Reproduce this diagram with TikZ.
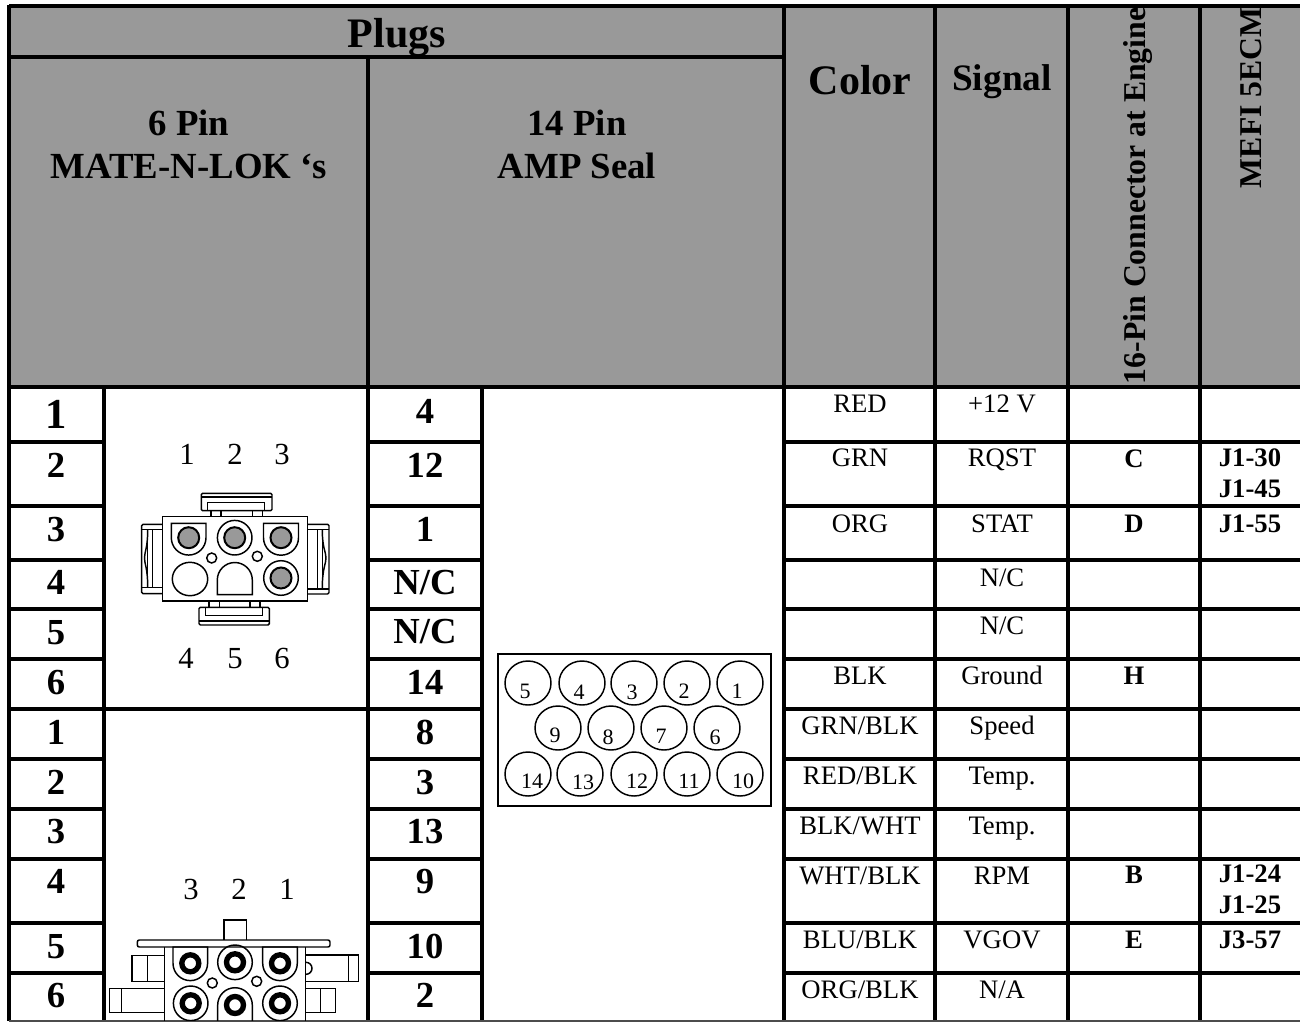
\documentclass[tikz,border=0pt]{standalone}
\usepackage{fontspec}
\setmainfont{Liberation Serif}
\usepackage{xcolor}
\usetikzlibrary{positioning,calc,shapes.geometric}
\definecolor{hdrgray}{gray}{0.6}
\newcommand{\fsz}[1]{\fontsize{#1}{#1}\selectfont}

\begin{document}
\begin{tikzpicture}[
    x=0.75pt, y=-0.75pt,
    every node/.style={inner sep=0pt, outer sep=0pt, anchor=base},
    hdrbig/.style={font=\fsz{31.5}\bfseries},
    hdrmid/.style={font=\fsz{28}\bfseries},
    hdrtwo/.style={font=\fontsize{27.6}{32.25}\selectfont\bfseries, align=center, anchor=center},
    hdrrot/.style={font=\fsz{23.8}\bfseries, rotate=90, anchor=base west},
    pinno/.style={font=\fsz{27.5}\bfseries},
    cell/.style={font=\fsz{20}},
    cellb/.style={font=\fsz{20}\bfseries},
    cellj/.style={font=\fontsize{20}{23.25}\selectfont\bfseries, align=center, anchor=center},
    plugno/.style={font=\fsz{23}},
    sealno/.style={font=\fsz{16.5}},
    grid/.style={line width=2.5pt, black},
    part/.style={line width=1.1pt, black},
    pinring/.style={line width=1.1pt, black},
    pinthick/.style={line width=4pt, black},
    sealhole/.style={draw, line width=1.1pt, ellipse, minimum width=34.5pt, minimum height=33pt, anchor=center},
]
    \useasboundingbox (0,0) rectangle (1300,1022);
    \fill[hdrgray] (9,6) rectangle (1300,387);

    % HEADER
    \node[hdrbig] (hplugs) at (397,47) {Plugs};
    \node[hdrtwo] (hsix) at (189,144) {6 Pin\\MATE-N-LOK ‘s};
    \node[hdrtwo] (hfourteen) at (577,144) {14 Pin\\AMP Seal};
    \node[hdrbig] (hcolor) at (860,94) {Color};
    \node[hdrmid] (hsignal) at (1002,90) {Signal};
    \node[hdrrot] (hengine) at (1145,384) {16-Pin Connector at Engine};
    \node[hdrrot] (hmefi) at (1261,188) {MEFI 5ECM};

    % GRID
    \draw[grid] (9,6) -- (1300,6);
    \draw[grid] (9,57) -- (784,57);
    \draw[grid] (9,387) -- (1300,387);
    \draw[grid] (9,5) -- (9,1021);
    \draw[grid] (104,387) -- (104,1021);
    \draw[grid] (368,57) -- (368,1021);
    \draw[grid] (482,387) -- (482,1021);
    \draw[grid] (784,6) -- (784,1021);
    \draw[grid] (935,6) -- (935,1021);
    \draw[grid] (1068,6) -- (1068,1021);
    \draw[grid] (1200,6) -- (1200,1021);
    \draw[grid] (9,709) -- (482,709);
    \draw[grid] (9,442) -- (104,442) (368,442) -- (482,442) (784,442) -- (1300,442);
    \draw[grid] (9,506) -- (104,506) (368,506) -- (482,506) (784,506) -- (1300,506);
    \draw[grid] (9,560) -- (104,560) (368,560) -- (482,560) (784,560) -- (1300,560);
    \draw[grid] (9,609) -- (104,609) (368,609) -- (482,609) (784,609) -- (1300,609);
    \draw[grid] (9,659) -- (104,659) (368,659) -- (482,659) (784,659) -- (1300,659);
    \draw[grid] (784,709) -- (1300,709);
    \draw[grid] (9,759) -- (104,759) (368,759) -- (482,759) (784,759) -- (1300,759);
    \draw[grid] (9,809) -- (104,809) (368,809) -- (482,809) (784,809) -- (1300,809);
    \draw[grid] (9,859) -- (104,859) (368,859) -- (482,859) (784,859) -- (1300,859);
    \draw[grid] (9,923) -- (104,923) (368,923) -- (482,923) (784,923) -- (1300,923);
    \draw[grid] (9,973) -- (104,973) (368,973) -- (482,973) (784,973) -- (1300,973);
    \draw[line width=0.8pt, black!70] (9,1021) -- (1300,1021);

    % 6 PIN NUMBERS
    \node[pinno, font=\fsz{32}\bfseries] (a1) at (56,428) {1};
    \node[pinno] (a2) at (56,477) {2};
    \node[pinno] (a3) at (56,541) {3};
    \node[pinno] (a4) at (56,594) {4};
    \node[pinno] (a5) at (56,644) {5};
    \node[pinno] (a6) at (56,694) {6};
    \node[pinno] (b1) at (56,744) {1};
    \node[pinno] (b2) at (56,794) {2};
    \node[pinno] (b3) at (56,843) {3};
    \node[pinno] (b4) at (56,893) {4};
    \node[pinno] (b5) at (56,958) {5};
    \node[pinno] (b6) at (56,1007) {6};

    % 14 PIN NUMBERS
    \node[pinno] (m1) at (425,423) {4};
    \node[pinno] (m2) at (425,477) {12};
    \node[pinno] (m3) at (425,541) {1};
    \node[pinno] (m4) at (425,594) {N/C};
    \node[pinno] (m5) at (425,643) {N/C};
    \node[pinno] (m6) at (425,694) {14};
    \node[pinno] (m7) at (425,744) {8};
    \node[pinno] (m8) at (425,794) {3};
    \node[pinno] (m9) at (425,843) {13};
    \node[pinno] (m10) at (425,893) {9};
    \node[pinno] (m11) at (425,958) {10};
    \node[pinno] (m12) at (425,1007) {2};

    % COLOR
    \node[cell] (c1) at (860,412) {RED};
    \node[cell] (c2) at (860,466) {GRN};
    \node[cell] (c3) at (860,532) {ORG};
    \node[cell] (c6) at (860,684) {BLK};
    \node[cell] (c7) at (860,734) {GRN/BLK};
    \node[cell] (c8) at (860,784) {RED/BLK};
    \node[cell] (c9) at (860,834) {BLK/WHT};
    \node[cell] (c10) at (860,884) {WHT/BLK};
    \node[cell] (c11) at (860,948) {BLU/BLK};
    \node[cell] (c12) at (860,998) {ORG/BLK};

    % SIGNAL
    \node[cell] (s1) at (1002,412) {+12 V};
    \node[cell] (s2) at (1002,466) {RQST};
    \node[cell] (s3) at (1002,532) {STAT};
    \node[cell] (s4) at (1002,586) {N/C};
    \node[cell] (s5) at (1002,634) {N/C};
    \node[cell] (s6) at (1002,684) {Ground};
    \node[cell] (s7) at (1002,734) {Speed};
    \node[cell] (s8) at (1002,784) {Temp.};
    \node[cell] (s9) at (1002,834) {Temp.};
    \node[cell] (s10) at (1002,884) {RPM};
    \node[cell] (s11) at (1002,948) {VGOV};
    \node[cell] (s12) at (1002,998) {N/A};

    % ENGINE AND MEFI
    \node[cellb] (e2) at (1134,467) {C};
    \node[cellb] (e3) at (1134,532) {D};
    \node[cellb] (e6) at (1134,684) {H};
    \node[cellb] (e10) at (1134,883) {B};
    \node[cellb] (e11) at (1134,948) {E};
    \node[cellj] (j2) at (1250,473) {J1-30\\J1-45};
    \node[cellb] (j3) at (1250,532) {J1-55};
    \node[cellj] (j10) at (1250,889) {J1-24\\J1-25};
    \node[cellb] (j11) at (1250,948) {J3-57};

    % AMP SEAL
    \draw[part] (498,654) rectangle (771,806);
    \node[sealhole] (h5) at (528,683) {};
    \node[sealhole] (h4) at (582,683) {};
    \node[sealhole] (h3) at (634,683) {};
    \node[sealhole] (h2) at (687,683) {};
    \node[sealhole] (h1) at (740,683) {};
    \node[sealhole] (h9) at (558,728) {};
    \node[sealhole] (h8) at (611,728) {};
    \node[sealhole] (h7) at (664,728) {};
    \node[sealhole] (h6) at (717,728) {};
    \node[sealhole] (h14) at (528,774) {};
    \node[sealhole] (h13) at (580,774) {};
    \node[sealhole] (h12) at (634,774) {};
    \node[sealhole] (h11) at (687,774) {};
    \node[sealhole] (h10) at (740,774) {};
    \node[sealno] (n5) at (525,698) {5};
    \node[sealno] (n4) at (579,699) {4};
    \node[sealno] (n3) at (632,699) {3};
    \node[sealno] (n2) at (684,698) {2};
    \node[sealno] (n1) at (737,698) {1};
    \node[sealno] (n9) at (555,742) {9};
    \node[sealno] (n8) at (608,744) {8};
    \node[sealno] (n7) at (661,743) {7};
    \node[sealno] (n6) at (715,744) {6};
    \node[sealno] (n14) at (532,788) {14};
    \node[sealno] (n13) at (583,789) {13};
    \node[sealno] (n12) at (637,788) {12};
    \node[sealno] (n11) at (689,788) {11};
    \node[sealno] (n10) at (743,788) {10};

    % MATE-N-LOK (upper)
    \node[plugno] (u1) at (187,464) {1};
    \node[plugno] (u2) at (235,464) {2};
    \node[plugno] (u3) at (282,464) {3};
    \node[plugno] (u4) at (186,668) {4};
    \node[plugno] (u5) at (235,668) {5};
    \node[plugno] (u6) at (282,668) {6};
    \draw[part] (162.3,516.7) rectangle (307.7,601);
    % latches
    \draw[part, rounded corners=1pt] (201.3,510.7) rectangle (272,493.3);
    \draw[part] (201.3,497) -- (272,497);
    \draw[part] (207.7,510.7) -- (207.7,502.7) -- (264.3,502.7) -- (264.3,510.7);
    \draw[part] (211,510.7) -- (211,516.7) (221,510.7) -- (221,516.7) (252.3,510.7) -- (252.3,516.7) (262.3,510.7) -- (262.3,516.7);
    \draw[part, rounded corners=1pt] (199,607.3) rectangle (269.3,625);
    \draw[part] (199,621) -- (269.3,621);
    \draw[part] (205.7,607.3) -- (205.7,615.7) -- (262.3,615.7) -- (262.3,607.3);
    \draw[part] (209,601) -- (209,607.3) (219.3,601) -- (219.3,607.3) (250,601) -- (250,607.3) (260,601) -- (260,607.3);
    \draw[part, rounded corners=1pt] (162.3,524.3) -- (141.7,524.3) -- (141.7,593.7) -- (162.3,593.7);
    \draw[part] (141.7,529.3) -- (162.3,529.3) (141.7,587.7) -- (162.3,587.7);
    \draw[part] (147.7,529.3) -- (147.7,587.7) (152.7,529.3) -- (152.7,587.7);
    \draw[part] (147.7,530) .. controls (147.7,548) and (144.5,552) .. (144.5,558) .. controls (144.5,564) and (147.7,568) .. (147.7,587);
    \draw[part, rounded corners=1pt] (307.7,524.3) -- (329,524.3) -- (329,594) -- (307.7,594);
    \draw[part] (307.7,529.3) -- (329,529.3) (307.7,589) -- (329,589);
    \draw[part] (317.3,529.3) -- (317.3,589) (322.3,529.3) -- (322.3,589);
    \draw[part] (322.3,530) .. controls (322.3,548) and (326,552) .. (326,558) .. controls (326,564) and (322.3,568) .. (322.3,588);
    % pins
    \draw[pinring] (171.3,523.3) -- (206,523.3) -- (206,537.7) arc[start angle=0, end angle=180, radius=17.35] -- cycle;
    \draw[pinthick, line width=1.5pt, fill=hdrgray] (188.7,537.7) circle[radius=10.5];
    \draw[pinring] (234.7,537.7) circle[radius=17.3];
    \draw[pinthick, line width=1.5pt, fill=hdrgray] (234.7,537.7) circle[radius=10.5];
    \draw[pinring] (263.5,523.3) -- (298.5,523.3) -- (298.5,537.7) arc[start angle=0, end angle=180, radius=17.5] -- cycle;
    \draw[pinthick, line width=1.5pt, fill=hdrgray] (281,537.7) circle[radius=10.5];
    \draw[pinring] (211.7,558) circle[radius=5];
    \draw[pinring] (257.3,556.3) circle[radius=5];
    \draw[pinring] (190,579) circle[x radius=17.7, y radius=16.7];
    \draw[pinring] (217.3,594.7) -- (252.3,594.7) -- (252.3,580) arc[start angle=0, end angle=-180, radius=17.5] -- cycle;
    \draw[pinring] (281,578) circle[radius=17.3];
    \draw[pinthick, line width=1.5pt, fill=hdrgray] (281,578) circle[radius=10.5];

    % MATE-N-LOK (lower)
    \node[plugno] (l3) at (191,899) {3};
    \node[plugno] (l2) at (239,899) {2};
    \node[plugno] (l1) at (287,899) {1};
    \begin{scope}
    \clip (108,915) rectangle (362,1020);
    \draw[part] (224,940) -- (224,920) -- (246.7,920) -- (246.7,940);
    \draw[part, rounded corners=1.5pt] (137.3,940) rectangle (330,947);
    \draw[part] (164.3,947) -- (164.3,1022) (305.7,947) -- (305.7,1022);
    \draw[part] (164.3,955.7) -- (132,955.7) -- (132,981.7) -- (164.3,981.7) (147.7,955.7) -- (147.7,981.7);
    \draw[part] (164.3,988.7) -- (109.7,988.7) -- (109.7,1012.7) -- (164.3,1012.7) (121.7,988.7) -- (121.7,1012.7);
    \draw[part] (305.7,955) -- (358.3,955) -- (358.3,981.7) -- (305.7,981.7) (348.3,955) -- (348.3,981.7);
    \draw[part] (306,962.3) arc[start angle=-90, end angle=90, radius=6];
    \draw[part] (305.7,988.7) -- (335.7,988.7) -- (335.7,1012.7) -- (305.7,1012.7) (320.7,988.7) -- (320.7,1012.7);
    \draw[pinring] (173,947) -- (207.6,947) -- (207.6,963.3) arc[start angle=0, end angle=180, radius=17.3] -- cycle;
    \draw[pinthick] (190.3,963.3) circle[radius=8.5];
    \draw[pinring] (235,962.3) circle[radius=17.3];
    \draw[pinthick] (235,962.3) circle[radius=8.5];
    \draw[pinring] (262.7,947) -- (297.3,947) -- (297.3,963.3) arc[start angle=0, end angle=180, radius=17.3] -- cycle;
    \draw[pinthick] (280,963.3) circle[radius=8.5];
    \draw[pinring] (212.3,983) circle[radius=5];
    \draw[pinring] (256.7,981.3) circle[radius=5];
    \draw[pinring] (190.7,1003.3) circle[radius=17.3];
    \draw[pinthick] (190.7,1003.3) circle[radius=8.5];
    \draw[pinring] (217.7,1025) -- (217.7,1005) arc[start angle=180, end angle=360, radius=17.3] -- (252.3,1025);
    \draw[pinthick] (235,1005) circle[radius=8.5];
    \draw[pinring] (280,1003.3) circle[radius=17.3];
    \draw[pinthick] (280,1003.3) circle[radius=8.5];
    \end{scope}
\end{tikzpicture}
\end{document}
